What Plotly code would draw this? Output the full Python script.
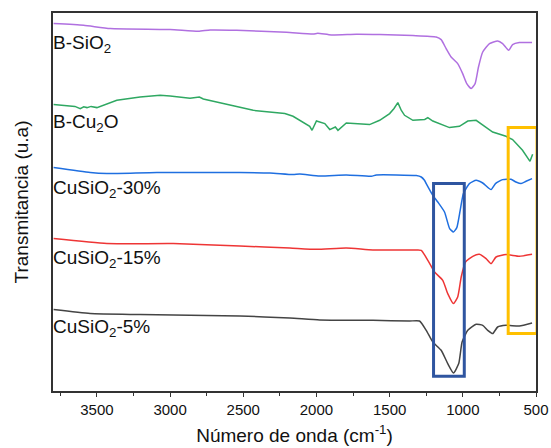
import plotly.graph_objects as go

# Wavenumbers (cm-1) and transmittance (arbitrary, offset)
sio2_x = [3796, 3591, 3409, 3000, 2807, 2726, 2545, 2205, 2023, 1991, 1898, 1727, 1568, 1341, 1182, 1148,
          1114, 1080, 1035, 1001, 973, 943, 916, 893, 864, 818, 762, 728, 687, 660, 614, 527]
sio2_y = [367.4, 365.7, 362.4, 361.4, 359.7, 361, 360.7, 358.7, 357, 357.7, 356, 356.7, 356.4, 355.4, 354, 351.4,
          342.4, 334, 327.4, 317.4, 307.4, 302.4, 307.4, 324, 339, 347.4, 350, 347.4, 340.7, 346.4, 348.4, 348.4]

cu2o_x = [3796, 3705, 3650, 3614, 3590, 3568, 3540, 3500, 3364, 3205, 3068, 3000, 2864, 2800, 2773, 2705,
          2545, 2432, 2216, 2160, 2046, 2030, 2000, 1943, 1909, 1871, 1853, 1796, 1637, 1568, 1500, 1470,
          1444, 1420, 1398, 1341, 1260, 1239, 1205, 1091, 1023, 966, 909, 864, 796, 705, 660, 592, 541, 523]
cu2o_y = [286.4, 285.7, 284.6, 282.4, 284.2, 283.4, 284.6, 283.4, 290.7, 294, 295.7, 295, 292.7, 294, 292, 289.7,
          284.7, 280.7, 277.4, 274.7, 264.7, 260.7, 270, 267.4, 261.4, 264, 260.7, 268, 266.4, 270.7, 277.4, 282.5,
          288.4, 280.5, 275.7, 270.7, 271.5, 273.4, 270, 263.4, 264.7, 270, 270.7, 265.7, 259, 254.7, 251.4, 240.7, 229.7, 236.7]

cu30_x = [3796, 3546, 3432, 3091, 2523, 2318, 2160, 2114, 1978, 1796, 1625, 1591, 1318, 1284, 1262, 1250,
          1205, 1171, 1125, 1090, 1064, 1041, 1018, 996, 955, 909, 864, 807, 777, 728, 671, 637, 602, 568, 527]
cu30_y = [223.4, 218.4, 217.4, 218.4, 218.4, 218, 216.4, 217, 215, 216, 214.7, 216, 215.4, 214, 210.7, 207.4,
          195.7, 189, 179, 162.4, 159, 163.4, 180.7, 197.4, 207.4, 210.7, 208, 201.4, 207.4, 211.4, 211.7, 209, 207.4, 209.7, 212.4]

cu15_x = [3796, 3432, 2978, 2523, 2182, 2000, 1796, 1614, 1318, 1284, 1239, 1193, 1137, 1103, 1064, 1035,
          1011, 982, 932, 887, 841, 807, 773, 705, 614, 527]
cu15_y = [152.4, 147.4, 147.4, 145, 143, 141.7, 143, 141, 141, 140.7, 130.7, 119, 110.7, 97.4, 87.4, 94,
          114, 129, 134.7, 136.7, 132.4, 127.4, 134, 136.4, 134.7, 136.7]

cu5_x = [3796, 3546, 3205, 2523, 2182, 1978, 1614, 1364, 1296, 1250, 1205, 1148, 1103, 1064, 1028, 1005,
         966, 909, 864, 830, 796, 762, 705, 614, 527]
cu5_y = [81.4, 77.4, 76.4, 75, 73, 71, 70.7, 70, 70, 60.7, 49, 40.7, 27.4, 18, 27.4, 49,
         60.7, 66.7, 65.7, 60.7, 57.4, 64, 65.7, 65, 68]

series_names = ["B-SiO<sub>2</sub>", "B-Cu<sub>2</sub>O", "CuSiO<sub>2</sub>-30%",
                "CuSiO<sub>2</sub>-15%", "CuSiO<sub>2</sub>-5%"]
label_y = [347, 268, 202, 132, 63]
series_colors = ["#B070E0", "#2FA862", "#1F6FE0", "#EE3535", "#444444"]

# highlight boxes (wavenumber range, y range)
blue_box_x = [1200, 990]
blue_box_y = [14.7, 207.4]
gold_box_x = [690, 493]
gold_box_y = [57.4, 263.4]

xs = [sio2_x, cu2o_x, cu30_x, cu15_x, cu5_x]
ys = [sio2_y, cu2o_y, cu30_y, cu15_y, cu5_y]

fig = go.Figure()
for i in range(5):
    fig.add_trace(go.Scatter(
        x=xs[i], y=ys[i], mode="lines",
        line=dict(color=series_colors[i], width=1.5,
                  shape="linear" if i == 1 else "spline", smoothing=0.5),
        showlegend=False, hoverinfo="skip"))
    fig.add_annotation(x=3800, y=label_y[i], text=series_names[i], showarrow=False,
                       xanchor="left", yanchor="middle", xshift=-2,
                       font=dict(family="Liberation Sans, Arial", size=19, color="#111111"))

fig.add_shape(type="rect", x0=blue_box_x[0], x1=blue_box_x[1], y0=blue_box_y[0], y1=blue_box_y[1],
              line=dict(color="#2F55A0", width=3))
fig.add_shape(type="rect", x0=gold_box_x[0], x1=gold_box_x[1], y0=gold_box_y[0], y1=gold_box_y[1],
              line=dict(color="#FFC000", width=3))

fig.update_layout(
    width=551, height=448,
    margin=dict(l=53, r=15, t=13, b=57),
    plot_bgcolor="white", paper_bgcolor="white",
    font=dict(family="Liberation Sans, Arial", color="#111111"),
)
fig.update_xaxes(
    range=[3800, 500], autorange=False, automargin=False,
    tickvals=[3500, 3000, 2500, 2000, 1500, 1000, 500],
    ticktext=["3500", "3000", "2500", "2000", "1500", "1000", "500"],
    ticks="outside", ticklen=4, tickwidth=1.3, tickcolor="#333333",
    minor=dict(tickvals=[3750, 3250, 2750, 2250, 1750, 1250, 750], ticks="outside", ticklen=3,
               tickwidth=1.2, tickcolor="#333333"),
    showline=True, linecolor="#333333", linewidth=1.5, mirror=True,
    showgrid=False, zeroline=False,
    tickfont=dict(size=15, color="#111111"),
    title=dict(text="Número de onda (cm<sup>-1</sup>)", font=dict(size=19), standoff=12),
)
fig.update_yaxes(
    range=[0, 378], autorange=False, automargin=False,
    showticklabels=False, ticks="",
    showline=True, linecolor="#333333", linewidth=1.5, mirror=True,
    showgrid=False, zeroline=False,
    title=dict(text="Transmitancia (u.a)", font=dict(size=19), standoff=18),
)

fig.write_html("out.html", config={"displayModeBar": False},
               post_script="document.body.style.margin='0';document.body.style.overflow='hidden';")
